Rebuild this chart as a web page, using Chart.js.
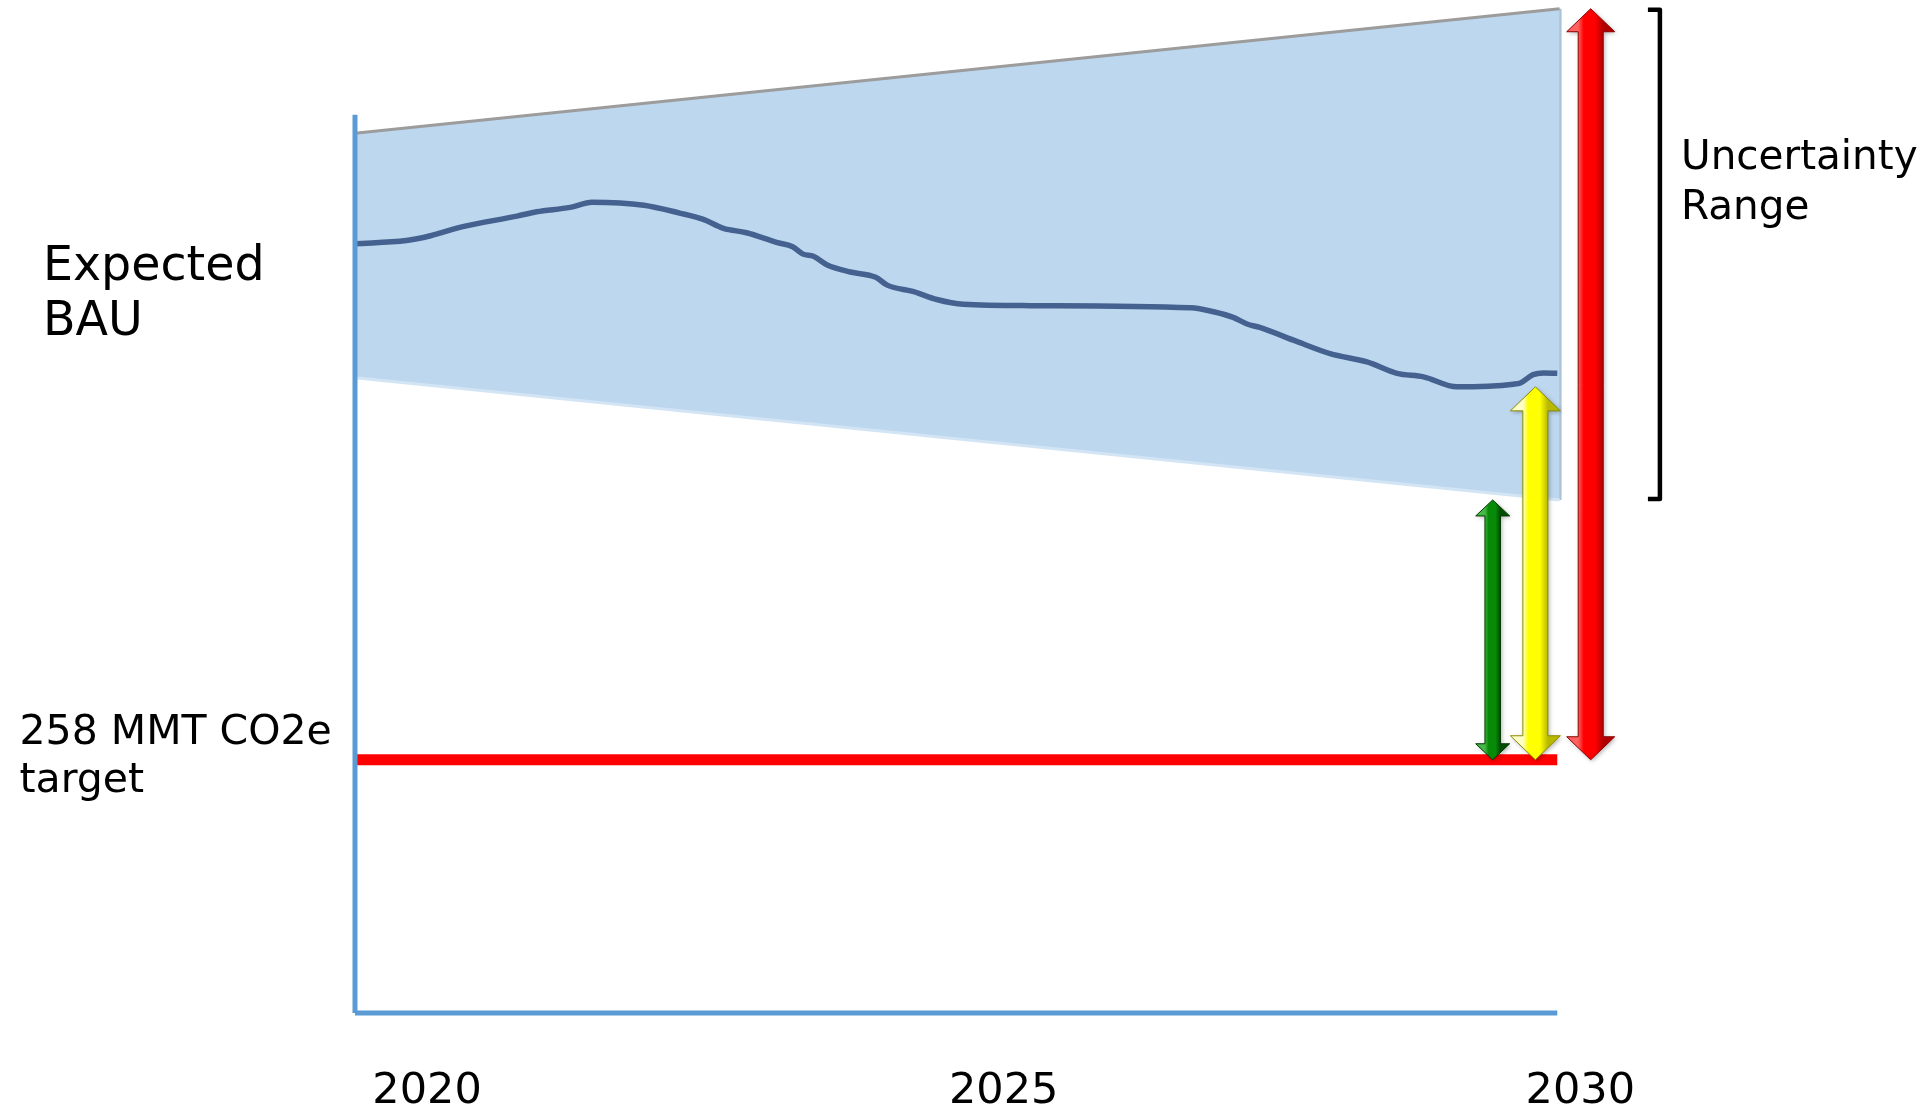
<!DOCTYPE html>
<html>
<head>
<meta charset="utf-8">
<script src="https://cdn.jsdelivr.net/npm/chart.js@4.4.1/dist/chart.umd.min.js"></script>
<style>
  html, body { margin: 0; padding: 0; background: #ffffff; }
  #wrap { width: 1920px; height: 1112px; }
</style>
</head>
<body>
<div id="wrap"><canvas id="c" width="1920" height="1112"></canvas></div>
<script>
// Years on the x axis, emissions (MMT CO2e) on the y axis
const startYear = 2019.375;
const endYear = 2029.8;
const tickYears = [2020, 2025, 2030];

// Expected business-as-usual emissions
const bauYears = [2019.375, 2019.82, 2020.03, 2020.31, 2020.78, 2020.95, 2021.24, 2021.43, 2021.88, 2022.19,
                  2022.39, 2022.57, 2022.77, 2023.03, 2023.17, 2023.26, 2023.35, 2023.47, 2023.67, 2023.89,
                  2023.99, 2024.22, 2024.42, 2024.65, 2025.23, 2026.62, 2026.82, 2026.99, 2027.11, 2027.22,
                  2027.54, 2027.83, 2028.15, 2028.41, 2028.64, 2028.93, 2029.42, 2029.48, 2029.59, 2029.68, 2029.8];
const bauValues = [376.2, 376.9, 378.0, 380.1, 382.5, 383.5, 384.5, 385.7, 385.0, 383.2,
                   381.8, 379.7, 378.7, 376.5, 375.5, 373.8, 373.3, 371.3, 369.7, 368.5,
                   366.7, 365.2, 363.4, 362.3, 362.0, 361.5, 360.6, 359.3, 357.8, 357.0,
                   353.8, 351.0, 349.1, 346.5, 345.7, 343.4, 344.0, 344.3, 346.2, 346.6, 346.5];

// Uncertainty range around the BAU projection
const rangeYears = [startYear, 2029.82];
const rangeHigh = [401.5, 430];
const rangeLow = [345.5, 317.5];

// 2030 target
const targetValue = 258;
const targetYears = [startYear, endYear];

// Axis extents
const yMin = 200;
const yMax = 432;
const yAxisTop = 405.7;

// Gap arrows at 2030: target up to low bound, expected BAU, high bound
const arrowYears = [2029.24, 2029.61, 2030.09];
const arrowTops = [317.5, 343.4, 430];

const pts = (xs, ys) => xs.map((x, i) => ({ x: x, y: ys[i] }));

const arrowStyles = [
  { shaft: 15.5, head: 34, headLen: 16, light: '#45B845', base: '#078A07', dark: '#004C00', edge: '#003A00' },
  { shaft: 25,   head: 50, headLen: 24, light: '#FFFFC8', base: '#FFFF00', dark: '#B8B800', edge: '#8A8A00' },
  { shaft: 25,   head: 48, headLen: 23, light: '#FF6060', base: '#FF0000', dark: '#B00000', edge: '#8A0000' }
];

function drawArrow(ctx, cx, yTop, yBot, s) {
  const hs = s.shaft / 2, hh = s.head / 2, L = s.headLen;
  ctx.save();
  ctx.beginPath();
  ctx.moveTo(cx, yTop);
  ctx.lineTo(cx + hh, yTop + L);
  ctx.lineTo(cx + hs, yTop + L);
  ctx.lineTo(cx + hs, yBot - L);
  ctx.lineTo(cx + hh, yBot - L);
  ctx.lineTo(cx, yBot);
  ctx.lineTo(cx - hh, yBot - L);
  ctx.lineTo(cx - hs, yBot - L);
  ctx.lineTo(cx - hs, yTop + L);
  ctx.lineTo(cx - hh, yTop + L);
  ctx.closePath();
  const g = ctx.createLinearGradient(cx - hs, 0, cx + hs, 0);
  g.addColorStop(0, s.light);
  g.addColorStop(0.22, s.base);
  g.addColorStop(0.68, s.base);
  g.addColorStop(1, s.dark);
  ctx.shadowColor = 'rgba(0,0,0,0.3)';
  ctx.shadowBlur = 4;
  ctx.shadowOffsetX = 1.5;
  ctx.shadowOffsetY = 1.5;
  ctx.fillStyle = g;
  ctx.fill();
  ctx.shadowColor = 'transparent';
  ctx.lineWidth = 1;
  ctx.strokeStyle = s.edge;
  ctx.stroke();
  ctx.restore();
}

const annotations = {
  id: 'annotations',
  afterDatasetsDraw(chart) {
    const ctx = chart.ctx;
    const xs = chart.scales.x, ys = chart.scales.y;
    const yBase = ys.getPixelForValue(targetValue);

    arrowYears.forEach((yr, i) => {
      drawArrow(ctx, xs.getPixelForValue(yr), ys.getPixelForValue(arrowTops[i]), yBase, arrowStyles[i]);
    });

    // bracket spanning the uncertainty range
    const bx = xs.getPixelForValue(2030.69);
    const bTop = ys.getPixelForValue(rangeHigh[1]);
    const bBot = ys.getPixelForValue(rangeLow[1]);
    ctx.save();
    ctx.strokeStyle = '#000000';
    ctx.lineWidth = 4.5;
    ctx.lineJoin = 'round';
    ctx.beginPath();
    ctx.moveTo(bx - 12, bTop + 1);
    ctx.lineTo(bx, bTop + 1);
    ctx.lineTo(bx, bBot - 1);
    ctx.lineTo(bx - 12, bBot - 1);
    ctx.stroke();
    ctx.restore();

    // text labels
    ctx.save();
    ctx.fillStyle = '#000000';
    ctx.textAlign = 'left';
    ctx.textBaseline = 'alphabetic';
    ctx.font = '47.5px "DejaVu Sans"';
    ctx.fillText('Expected', 43, 280);
    ctx.fillText('BAU', 43, 335);
    ctx.font = '41px "DejaVu Sans"';
    ctx.fillText('258 MMT CO2e', 19.5, 744);
    ctx.fillText('target', 19.5, 792);
    ctx.font = '40.5px "DejaVu Sans"';
    ctx.fillText('Uncertainty', 1681, 169.3);
    ctx.fillText('Range', 1681, 219);
    ctx.restore();
  }
};

new Chart(document.getElementById('c'), {
  type: 'line',
  data: {
    datasets: [
      { // vertical axis line
        data: pts([startYear, startYear], [yMin, yAxisTop]),
        borderColor: '#5B9BD5', borderWidth: 5, fill: false, tension: 0, clip: false
      },
      { // horizontal axis line
        data: pts([startYear, endYear], [yMin, yMin]),
        borderColor: '#5B9BD5', borderWidth: 5, fill: false, tension: 0, clip: false
      },
      { // expected BAU
        data: pts(bauYears, bauValues),
        borderColor: '#44618F', borderWidth: 5.5, fill: false,
        cubicInterpolationMode: 'monotone', borderCapStyle: 'butt', clip: false
      },
      { // target
        data: pts(targetYears, [targetValue, targetValue]),
        borderColor: '#FF0000', borderWidth: 11, fill: false, tension: 0, borderCapStyle: 'butt', clip: false
      },
      { // upper bound of the range
        data: pts(rangeYears, rangeHigh),
        borderColor: '#9C9C9C', borderWidth: 3, fill: false, tension: 0, clip: false
      },
      { // lower bound, filled up to the upper bound
        data: pts(rangeYears, rangeLow),
        borderColor: '#D3E5F5', borderWidth: 3, tension: 0,
        fill: '-1', backgroundColor: '#BDD7EE', clip: false
      },
      { // right edge of the range
        data: pts([rangeYears[1], rangeYears[1]], [rangeLow[1], rangeHigh[1]]),
        borderColor: '#ABC1D8', borderWidth: 4, fill: false, tension: 0, clip: false
      }
    ]
  },
  options: {
    responsive: false,
    animation: false,
    devicePixelRatio: 1,
    layout: { padding: { left: 355, right: 282, top: 0, bottom: 0 } },
    elements: { point: { radius: 0, hoverRadius: 0 } },
    plugins: { legend: { display: false }, tooltip: { enabled: false } },
    events: [],
    scales: {
      x: {
        type: 'linear',
        position: 'bottom',
        min: startYear,
        max: 2030.5,
        grid: { display: false, drawTicks: false },
        border: { display: false },
        afterBuildTicks: (scale) => { scale.ticks = tickYears.map(v => ({ value: v })); },
        afterFit: (scale) => { scale.height = 99; },
        ticks: {
          autoSkip: false,
          maxRotation: 0,
          padding: 53,
          color: '#000000',
          font: { family: 'DejaVu Sans', size: 43 },
          callback: (v) => String(v)
        }
      },
      y: {
        type: 'linear',
        display: false,
        min: yMin,
        max: yMax
      }
    }
  },
  plugins: [annotations]
});
</script>
</body>
</html>
